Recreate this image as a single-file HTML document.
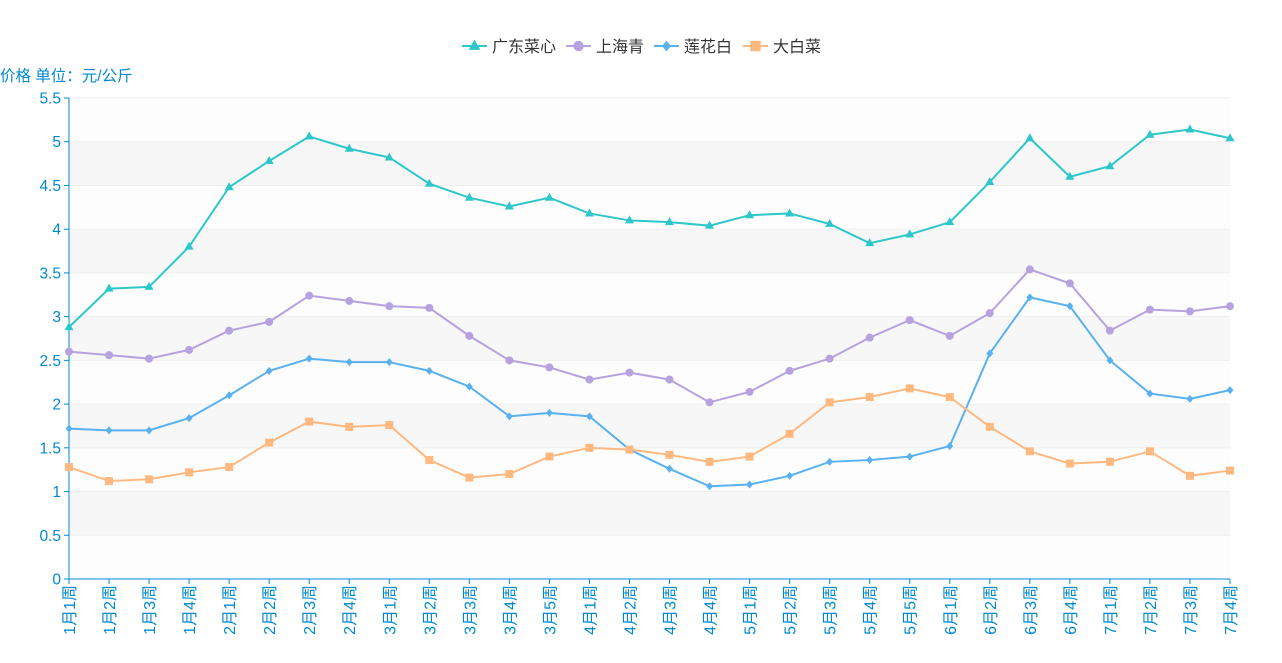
<!DOCTYPE html>
<html><head><meta charset="utf-8"><style>
body{margin:0;background:#fff;}
svg text{font-family:"Liberation Sans","Noto Sans CJK SC",sans-serif;}
</style></head><body>
<svg id="c" width="1282" height="658" xmlns="http://www.w3.org/2000/svg"></svg>
<script>
const S=document.getElementById('c');
const x0=69,x1=1230,y0=579,yt=98;
const X=i=>x0+i*(x1-x0)/29, Y=v=>y0-v*(y0-yt)/5.5;
let h='';
for(let k=0;k<11;k++){const a=Y(k*0.5),b=Y((k+1)*0.5);
h+=`<rect x="${x0}" y="${b}" width="${x1-x0}" height="${a-b}" fill="${k%2?'#f7f7f7':'#fdfdfd'}"/>`;}
for(let k=1;k<=11;k++){h+=`<line x1="${x0}" x2="${x1}" y1="${Y(k*0.5)}" y2="${Y(k*0.5)}" stroke="#eee"/>`;}
for(let k=0;k<=11;k++){const y=Y(k*0.5);h+=`<line x1="${x0-5}" x2="${x0}" y1="${y}" y2="${y}" stroke="#008acd"/><text x="${x0-8}" y="${y+5.5}" text-anchor="end" font-size="15.5" fill="#008acd">${+(k*0.5).toFixed(1)}</text>`;}
h+=`<line x1="${x0}" x2="${x0}" y1="${yt}" y2="${y0}" stroke="#008acd"/><line x1="${x0}" x2="${x1}" y1="${y0}" y2="${y0}" stroke="#008acd"/>`;
const L=[];[[1,4],[2,4],[3,5],[4,4],[5,5],[6,4],[7,4]].forEach(([m,n])=>{for(let w=1;w<=n;w++)L.push(m+'月'+w+'周');});
L.forEach((t,i)=>{const x=X(i);h+=`<line x1="${x}" x2="${x}" y1="${y0}" y2="${y0+5}" stroke="#008acd"/><text transform="translate(${x+6},${y0+6}) rotate(-90)" text-anchor="end" font-size="16" fill="#008acd">${t}</text>`;});
h+=`<text x="0" y="81" font-size="15.5" fill="#008acd">价格 单位：元/公斤</text>`;
const D=[
['#2ec7c9','tri',[2.88,3.32,3.34,3.80,4.48,4.78,5.06,4.92,4.82,4.52,4.36,4.26,4.36,4.18,4.10,4.08,4.04,4.16,4.18,4.06,3.84,3.94,4.08,4.54,5.04,4.60,4.72,5.08,5.14,5.04]],
['#b6a2de','cir',[2.60,2.56,2.52,2.62,2.84,2.94,3.24,3.18,3.12,3.10,2.78,2.50,2.42,2.28,2.36,2.28,2.02,2.14,2.38,2.52,2.76,2.96,2.78,3.04,3.54,3.38,2.84,3.08,3.06,3.12]],
['#5ab1ef','dia',[1.72,1.70,1.70,1.84,2.10,2.38,2.52,2.48,2.48,2.38,2.20,1.86,1.90,1.86,1.48,1.26,1.06,1.08,1.18,1.34,1.36,1.40,1.52,2.58,3.22,3.12,2.50,2.12,2.06,2.16]],
['#ffb980','sq',[1.28,1.12,1.14,1.22,1.28,1.56,1.80,1.74,1.76,1.36,1.16,1.20,1.40,1.50,1.48,1.42,1.34,1.40,1.66,2.02,2.08,2.18,2.08,1.74,1.46,1.32,1.34,1.46,1.18,1.24]]];
function mk(t,x,y,c,s){s=s||1;
if(t=='tri')return `<polygon points="${x},${y-5*s} ${x+4.5*s},${y+3*s} ${x-4.5*s},${y+3*s}" fill="${c}"/>`;
if(t=='cir')return `<circle cx="${x}" cy="${y}" r="${4*s}" fill="${c}"/>`;
if(t=='dia')return `<polygon points="${x},${y-4*s} ${x+3.5*s},${y} ${x},${y+4*s} ${x-3.5*s},${y}" fill="${c}"/>`;
return `<rect x="${x-4*s}" y="${y-4*s}" width="${8*s}" height="${8*s}" fill="${c}"/>`;}
D.forEach(([c,t,d])=>{h+=`<polyline fill="none" stroke="${c}" stroke-width="2" points="${d.map((v,i)=>X(i)+','+Y(v)).join(' ')}"/>`;
d.forEach((v,i)=>h+=mk(t,X(i),Y(v),c));});
const names=['广东菜心','上海青','莲花白','大白菜'],lx=[462,566,654,743];
D.forEach(([c,t],i)=>{const x=lx[i];h+=`<line x1="${x}" x2="${x+25}" y1="46" y2="46" stroke="${c}" stroke-width="2"/>`+mk(t,x+12.5,46,c,1.3)+`<text x="${x+30}" y="52" font-size="16" fill="#333">${names[i]}</text>`;});
S.innerHTML=h;
</script>
</body></html>
